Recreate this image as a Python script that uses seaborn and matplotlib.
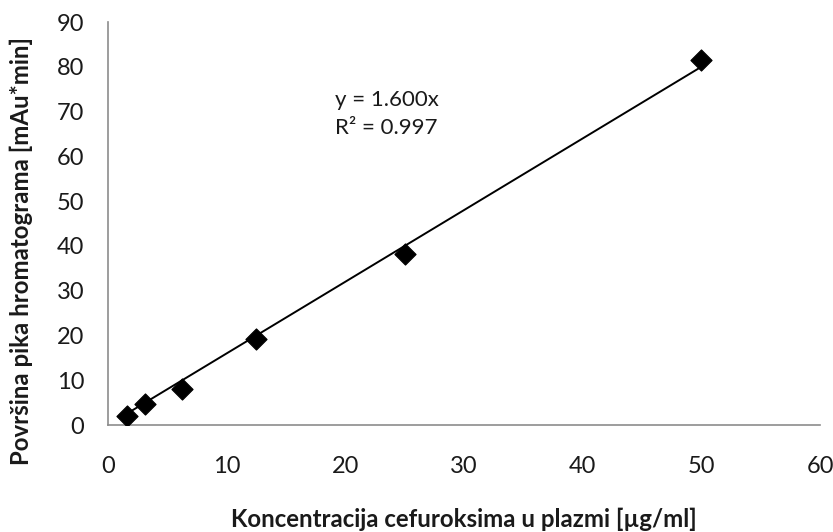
import matplotlib
matplotlib.use("Agg")
import matplotlib.pyplot as plt
import seaborn as sns
import numpy as np
import pandas as pd

# Calibration data: cefuroxime concentration in plasma vs. chromatogram peak area
concentration = [1.5625, 3.125, 6.25, 12.5, 25.0, 50.0]
peak_area = [2.1, 4.7, 8.1, 19.3, 38.2, 81.5]
slope = 1.600
r_squared = 0.997
x_ticks = [0, 10, 20, 30, 40, 50, 60]
y_ticks = [0, 10, 20, 30, 40, 50, 60, 70, 80, 90]

sns.set_theme(style="white")
plt.rcParams["font.family"] = ["Lato", "DejaVu Sans"]

df = pd.DataFrame({"conc": concentration, "area": peak_area})
fit_x = np.array([min(concentration), max(concentration)])
fit = pd.DataFrame({"conc": fit_x, "area": slope * fit_x})

fig = plt.figure(figsize=(8.33, 5.32), dpi=100)
ax = fig.add_axes([0.1297, 0.2011, 0.8547, 0.7575])

sns.lineplot(data=fit, x="conc", y="area", ax=ax, color="black", linewidth=1.4)
sns.scatterplot(data=df, x="conc", y="area", ax=ax, marker="D", s=115,
                color="black", edgecolor="black", zorder=3)

ax.set_xlim(0, 60)
ax.set_ylim(0, 90)
ax.set_xticks(x_ticks)
ax.set_yticks(y_ticks)
ax.tick_params(axis="both", labelsize=17, colors="#1a1a1a", length=0)
ax.tick_params(axis="y", pad=17)
ax.tick_params(axis="x", pad=22)
for side in ("top", "right"):
    ax.spines[side].set_visible(False)
for side in ("left", "bottom"):
    ax.spines[side].set_color("#8c8c8c")
    ax.spines[side].set_linewidth(1.2)

ax.set_xlabel("Koncentracija cefuroksima u plazmi [µg/ml]", fontsize=17.3,
              fontweight="bold", color="#1a1a1a")
ax.set_ylabel("Površina pika hromatograma [mAu*min]", fontsize=17.3,
              fontweight="bold", color="#1a1a1a")
ax.xaxis.set_label_coords(0.5, -0.205)
ax.yaxis.set_label_coords(-0.105, 0.432)

ax.text(0.319, 0.806, f"y = {slope:.3f}x", transform=ax.transAxes,
        fontsize=16, ha="left", va="center", color="#1a1a1a")
ax.text(0.319, 0.737, f"R² = {r_squared:.3f}", transform=ax.transAxes,
        fontsize=16, ha="left", va="center", color="#1a1a1a")

fig.savefig("out.png", dpi=100)
